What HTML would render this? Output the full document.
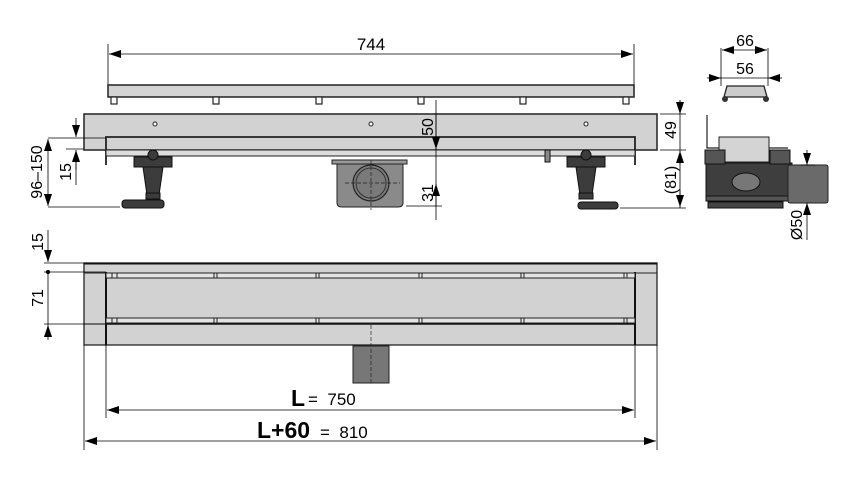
<!DOCTYPE html>
<html><head><meta charset="utf-8"><style>
html,body{margin:0;padding:0;background:#fff;}
svg{display:block;}
text{font-family:"Liberation Sans",sans-serif;fill:#000;}
</style></head><body>
<svg width="854" height="492" viewBox="0 0 854 492" xmlns="http://www.w3.org/2000/svg">
<defs>
<marker id="a" viewBox="0 0 12 8" refX="12" refY="4" markerUnits="userSpaceOnUse" markerWidth="12" markerHeight="8" orient="auto-start-reverse"><path d="M0,0 L12,4 L0,8 z" fill="#000"/></marker>
</defs>
<g stroke="#000" stroke-width="0.8" fill="none">
<line x1="108" y1="44" x2="108" y2="85"/><line x1="634" y1="44" x2="634" y2="85"/>
<line x1="109" y1="54" x2="633" y2="54" marker-start="url(#a)" marker-end="url(#a)"/>
</g>
<text x="371" y="50" font-size="17" text-anchor="middle">744</text>
<rect x="108" y="85" width="526" height="12" fill="#d4d4d4" stroke="#222" stroke-width="1.5"/>
<g fill="#fff" stroke="#222" stroke-width="1.2">
<rect x="111" y="97" width="6" height="7"/><rect x="213" y="97" width="6" height="7"/><rect x="316" y="97" width="6" height="7"/>
<rect x="418" y="97" width="6" height="7"/><rect x="520" y="97" width="6" height="7"/><rect x="623" y="97" width="6" height="7"/>
</g>
<rect x="84" y="114" width="573" height="36" fill="#d2d2d2" stroke="#222" stroke-width="1.5"/>
<g fill="#fff" stroke="#222"><circle cx="155" cy="124" r="2"/><circle cx="371" cy="124" r="2"/><circle cx="586" cy="124" r="2"/></g>
<path d="M106,165 V137 H635 V165" fill="none" stroke="#222" stroke-width="1.8"/>
<rect x="106" y="150" width="529" height="6" fill="#ddd" stroke="#222" stroke-width="1"/>
<rect x="332" y="160" width="75" height="4" fill="#999" stroke="#222"/>
<path d="M337,164 H403 V203 Q403,207 398,207 H342 Q337,207 337,203 Z" fill="#8a8a8a" stroke="#222"/>
<circle cx="371" cy="183" r="18" fill="#7a7a7a" stroke="#222" stroke-width="1.2"/>
<circle cx="371" cy="183" r="15" fill="none" stroke="#333"/>
<path d="M345,183 H400 M371,160 V210" stroke="#222" stroke-width="0.7" stroke-dasharray="4,2"/>
<g fill="#3c3c3c" stroke="#111">
<rect x="134" y="157" width="38" height="10"/><circle cx="153" cy="155" r="5"/>
<path d="M143,167 H163 L159,195 H147 Z"/><rect x="146" y="193" width="14" height="6"/>
<rect x="122" y="200" width="42" height="8" rx="3"/>
<rect x="567" y="157" width="38" height="10"/><circle cx="586" cy="155" r="5"/>
<path d="M576,167 H596 L592,195 H580 Z"/><rect x="579" y="193" width="14" height="6"/>
<rect x="578" y="202" width="40" height="7" rx="3"/>
<rect x="545" y="150" width="5" height="12" fill="#888"/>
</g>
<g stroke="#000" stroke-width="0.8" fill="none">
<line x1="48" y1="138" x2="106" y2="138"/><line x1="48" y1="207" x2="120" y2="207"/>
<line x1="48" y1="139" x2="48" y2="206" marker-start="url(#a)" marker-end="url(#a)"/>
<line x1="66" y1="149" x2="84" y2="149"/>
<line x1="76" y1="118" x2="76" y2="137" marker-end="url(#a)"/>
<line x1="76" y1="170" x2="76" y2="150" marker-end="url(#a)"/>
<line x1="76" y1="150" x2="76" y2="185"/>
<line x1="436" y1="100" x2="436" y2="220"/>
<line x1="436" y1="115" x2="436" y2="149" marker-end="url(#a)"/>
<line x1="436" y1="206" x2="436" y2="184" marker-end="url(#a)"/>
<line x1="406" y1="206" x2="442" y2="206"/>
<line x1="660" y1="114" x2="686" y2="114"/><line x1="660" y1="150" x2="686" y2="150"/><line x1="620" y1="208" x2="686" y2="208"/>
<line x1="680" y1="100" x2="680" y2="208"/>
<line x1="680" y1="100" x2="680" y2="114" marker-end="url(#a)"/>
<line x1="680" y1="165" x2="680" y2="151" marker-end="url(#a)"/>
<line x1="680" y1="190" x2="680" y2="207" marker-end="url(#a)"/>
</g>
<circle cx="436" cy="193" r="2" fill="#000"/>
<text transform="translate(42,172) rotate(-90)" font-size="16" text-anchor="middle">96–150</text>
<text transform="translate(71,172) rotate(-90)" font-size="16" text-anchor="middle">15</text>
<text transform="translate(433,127) rotate(-90)" font-size="16" text-anchor="middle">50</text>
<text transform="translate(433,193) rotate(-90)" font-size="16" text-anchor="middle">31</text>
<text transform="translate(676,130) rotate(-90)" font-size="16" text-anchor="middle">49</text>
<text transform="translate(676,180) rotate(-90)" font-size="16" text-anchor="middle">(81)</text>
<g stroke="#000" stroke-width="0.8" fill="none">
<line x1="721" y1="48" x2="721" y2="86"/><line x1="768" y1="48" x2="768" y2="86"/>
<line x1="722" y1="50" x2="767" y2="50" marker-start="url(#a)" marker-end="url(#a)"/>
<line x1="707" y1="78" x2="721" y2="78" marker-end="url(#a)"/>
<line x1="782" y1="78" x2="768" y2="78" marker-end="url(#a)"/>
<line x1="720" y1="78" x2="768" y2="78"/>
</g>
<text x="745" y="46" font-size="16" text-anchor="middle">66</text>
<text x="745" y="74" font-size="16" text-anchor="middle">56</text>
<path d="M727,86 H764 L767,97 H724 Z" fill="#ccc" stroke="#222" stroke-width="1.3"/>
<g fill="#333"><circle cx="725" cy="99" r="3"/><circle cx="766" cy="99" r="3"/></g>
<path d="M707,115 V148 H788" fill="none" stroke="#222" stroke-width="1.2"/>
<rect x="719" y="137" width="50" height="25" fill="#d4d4d4" stroke="#222"/>
<rect x="706" y="163" width="86" height="36" fill="#3e3e3e" stroke="#111"/>
<rect x="705" y="150" width="20" height="14" fill="#555" stroke="#111"/>
<rect x="770" y="150" width="20" height="14" fill="#555" stroke="#111"/>
<ellipse cx="746" cy="182" rx="14" ry="9" fill="#777" stroke="#111"/>
<rect x="706" y="196" width="86" height="5" fill="#555" stroke="#111"/>
<rect x="708" y="202" width="75" height="6" fill="#444" stroke="#111"/>
<rect x="788" y="165" width="40" height="38" rx="2" fill="#6a6a6a" stroke="#222"/>
<g stroke="#000" stroke-width="0.8">
<line x1="807" y1="150" x2="807" y2="165" marker-end="url(#a)"/>
<line x1="807" y1="240" x2="807" y2="203" marker-end="url(#a)"/>
<line x1="800" y1="165" x2="815" y2="165"/>
</g>
<text transform="translate(802,225) rotate(-90)" font-size="16" text-anchor="middle">Ø50</text>
<rect x="84" y="263" width="573" height="82" fill="#d2d2d2" stroke="#222" stroke-width="1.3"/>
<line x1="84" y1="263.5" x2="657" y2="263.5" stroke="#111" stroke-width="2"/>
<line x1="84" y1="273" x2="106" y2="273" stroke="#222"/>
<line x1="635" y1="273" x2="657" y2="273" stroke="#222"/>
<line x1="106" y1="272" x2="106" y2="345" stroke="#111" stroke-width="2"/>
<line x1="635" y1="272" x2="635" y2="345" stroke="#111" stroke-width="2"/>
<g fill="#e4e4e4" stroke="#222" stroke-width="1">
<rect x="106" y="273" width="529" height="5"/>
<rect x="106" y="318" width="529" height="5"/>
</g>
<line x1="106" y1="324" x2="635" y2="324" stroke="#111" stroke-width="1.5"/>
<line x1="84" y1="324" x2="106" y2="324" stroke="#222"/>
<g stroke="#222" stroke-width="1">
<path d="M112,273v5M117,273v5M214,273v5M217,273v5M316,273v5M319,273v5M419,273v5M422,273v5M521,273v5M524,273v5M624,273v5M627,273v5"/>
<path d="M112,318v5M117,318v5M214,318v5M217,318v5M316,318v5M319,318v5M419,318v5M422,318v5M521,318v5M524,318v5M624,318v5M627,318v5"/>
</g>
<rect x="353" y="346" width="36" height="37" fill="#777" stroke="#222"/>
<line x1="371" y1="325" x2="371" y2="383" stroke="#222" stroke-width="0.7" stroke-dasharray="4,2"/>
<g stroke="#000" stroke-width="0.8" fill="none">
<line x1="84" y1="345" x2="84" y2="450"/><line x1="657" y1="345" x2="657" y2="450"/>
<line x1="106" y1="345" x2="106" y2="418"/><line x1="635" y1="345" x2="635" y2="418"/>
<line x1="107" y1="410" x2="634" y2="410" marker-start="url(#a)" marker-end="url(#a)"/>
<line x1="85" y1="441" x2="656" y2="441" marker-start="url(#a)" marker-end="url(#a)"/>
<line x1="44" y1="263" x2="84" y2="263"/><line x1="44" y1="272" x2="106" y2="272"/><line x1="44" y1="324" x2="106" y2="324"/>
<line x1="48" y1="230" x2="48" y2="262" marker-end="url(#a)"/>
<line x1="48" y1="340" x2="48" y2="325" marker-end="url(#a)"/>
<line x1="48" y1="272" x2="48" y2="325"/>
</g>
<circle cx="48" cy="272" r="2" fill="#000"/>
<text transform="translate(43,242) rotate(-90)" font-size="16" text-anchor="middle">15</text>
<text transform="translate(43,298) rotate(-90)" font-size="16" text-anchor="middle">71</text>
<text x="291" y="406" font-size="23" font-weight="bold">L</text>
<text x="308" y="405" font-size="17">=&#160;&#160;750</text>
<text x="257" y="438" font-size="23" font-weight="bold">L+60</text>
<text x="320" y="438" font-size="17">=&#160;&#160;810</text>
</svg>
</body></html>
